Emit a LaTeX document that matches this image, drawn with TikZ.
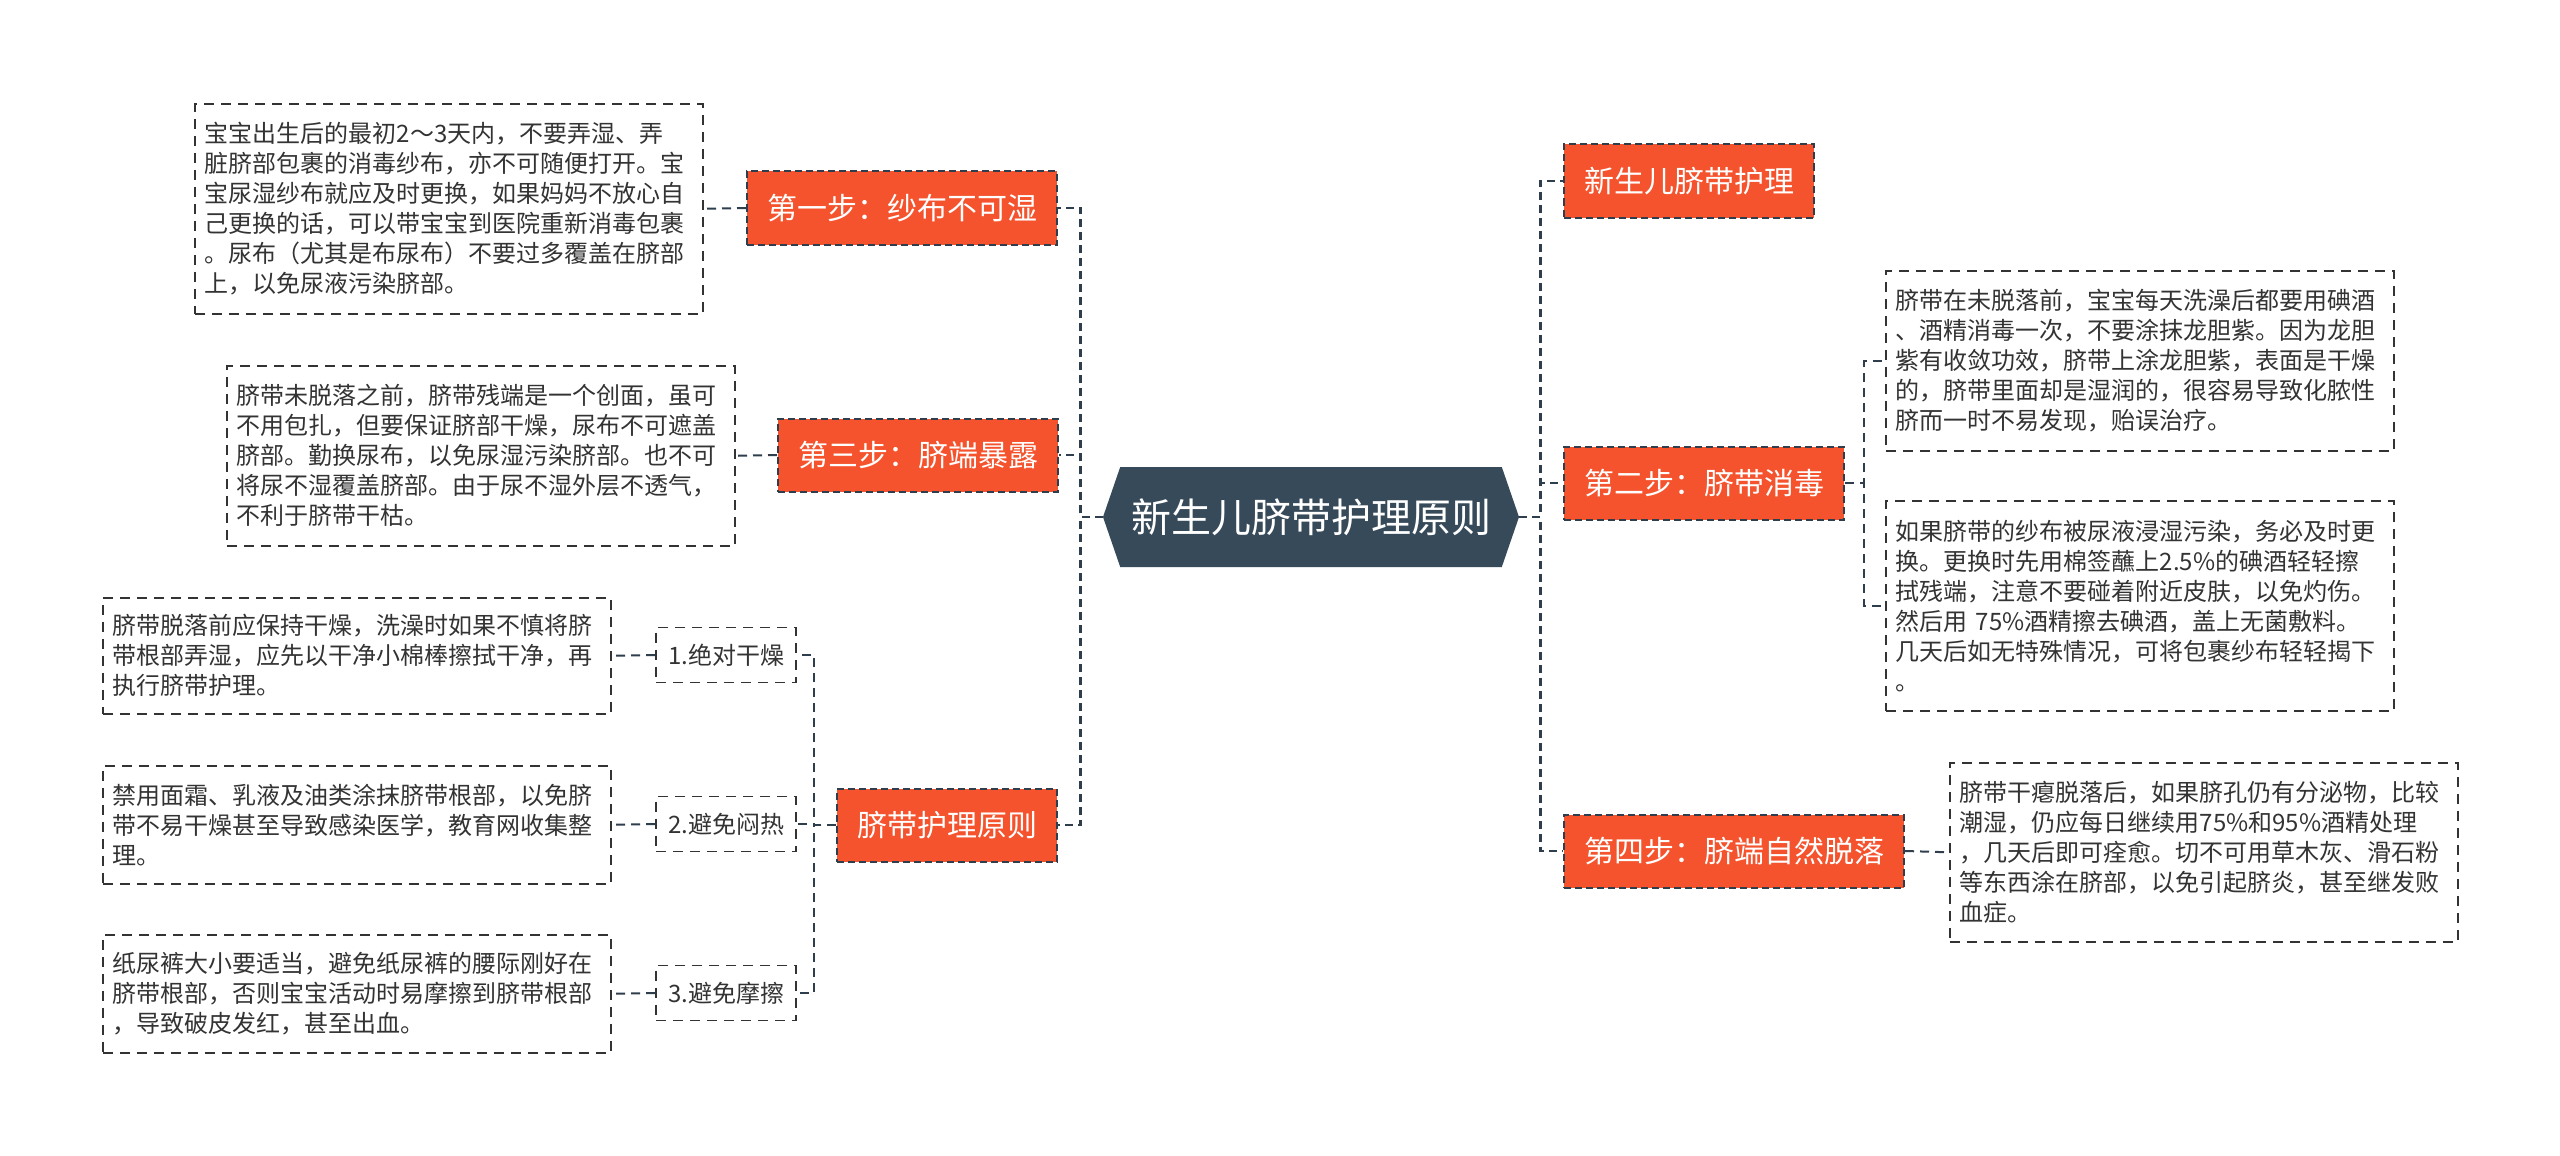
\documentclass[tikz,border=0pt]{standalone}
\usepackage{fontspec}
\setmainfont{Noto Sans CJK SC}
\usetikzlibrary{shapes.symbols,positioning}
\definecolor{hubfill}{HTML}{374A5A}
\definecolor{topicred}{HTML}{F4532D}
\definecolor{linkgray}{HTML}{2F3E4D}
\definecolor{inkgray}{HTML}{333333}
\tikzset{
  link/.style={draw=linkgray,line width=1.3pt,dash pattern=on 4pt off 2.5pt},
  sublink/.style={draw=linkgray,line width=1pt,dash pattern=on 4.5pt off 3pt},
  topic/.style={fill=topicred,draw=linkgray,line width=1pt,dash pattern=on 3.5pt off 2pt,
    text=white,font=\fontsize{15pt}{18pt}\selectfont,inner xsep=10pt,inner ysep=0pt,
    minimum height=36.5pt},
  leaf/.style={draw=inkgray,fill=white,line width=.8pt,dash pattern=on 5pt off 3.5pt,
    text=inkgray,font=\fontsize{12pt}{15pt}\selectfont,align=left,text width=244pt,
    inner xsep=5pt,anchor=north west},
  tag/.style={draw=inkgray,fill=white,line width=.8pt,dash pattern=on 5pt off 3.5pt,
    text=inkgray,font=\fontsize{12pt}{15pt}\selectfont,minimum width=70pt,
    minimum height=27.5pt,inner sep=0pt}}

\begin{document}
\begin{tikzpicture}[x=.5pt,y=-.5pt]
\fill[white] (0,0) rectangle (2560,1156);
\useasboundingbox (0,0) rectangle (2560,1156);
% centre
\node[signal,signal to=west and east,signal pointer angle=142,fill=hubfill,text=white,
  font=\fontsize{20pt}{24pt}\selectfont,minimum width=208pt,minimum height=50pt,inner sep=0pt]
  (hub) at (1311,517) {新生儿脐带护理原则};
% left side
\node[topic,anchor=east] (dry) at (1058,208) {第一步：纱布不可湿};
\node[topic,anchor=east] (bare) at (1059,455) {第三步：脐端暴露};
\node[topic,anchor=east] (rules) at (1058,825) {脐带护理原则};
\node[tag] (tagdry) at (726,655) {1.绝对干燥};
\node[tag] (tagheat) at (726,824) {2.避免闷热};
\node[tag] (tagrub) at (726,993) {3.避免摩擦};
\node[leaf,minimum height=105pt] (drytxt) at (194,103) {宝宝出生后的最初2～3天内，不要弄湿、弄\\
脏脐部包裹的消毒纱布，亦不可随便打开。宝\\
宝尿湿纱布就应及时更换，如果妈妈不放心自\\
己更换的话，可以带宝宝到医院重新消毒包裹\\
。尿布（尤其是布尿布）不要过多覆盖在脐部\\
上，以免尿液污染脐部。};
\node[leaf,minimum height=90pt] (baretxt) at (226,365) {脐带未脱落之前，脐带残端是一个创面，虽可\\
不用包扎，但要保证脐部干燥，尿布不可遮盖\\
脐部。勤换尿布，以免尿湿污染脐部。也不可\\
将尿不湿覆盖脐部。由于尿不湿外层不透气，\\
不利于脐带干枯。};
\node[leaf,minimum height=58pt] (tagdrytxt) at (102,597) {脐带脱落前应保持干燥，洗澡时如果不慎将脐\\
带根部弄湿，应先以干净小棉棒擦拭干净，再\\
执行脐带护理。};
\node[leaf,minimum height=59pt] (tagheattxt) at (102,765) {禁用面霜、乳液及油类涂抹脐带根部，以免脐\\
带不易干燥甚至导致感染医学，教育网收集整\\
理。};
\node[leaf,minimum height=59pt] (tagrubtxt) at (102,934) {纸尿裤大小要适当，避免纸尿裤的腰际刚好在\\
脐带根部，否则宝宝活动时易摩擦到脐带根部\\
，导致破皮发红，甚至出血。};
% right side
\node[topic,anchor=west] (care) at (1563,181) {新生儿脐带护理};
\node[topic,anchor=west] (clean) at (1563,483) {第二步：脐带消毒};
\node[topic,anchor=west] (fall) at (1563,851) {第四步：脐端自然脱落};
\node[leaf,minimum height=90pt] (cleantxta) at (1885,270) {脐带在未脱落前，宝宝每天洗澡后都要用碘酒\\
、酒精消毒一次，不要涂抹龙胆紫。因为龙胆\\
紫有收敛功效，脐带上涂龙胆紫，表面是干燥\\
的，脐带里面却是湿润的，很容易导致化脓性\\
脐而一时不易发现，贻误治疗。};
\node[leaf,minimum height=105pt] (cleantxtb) at (1885,500) {如果脐带的纱布被尿液浸湿污染，务必及时更\\
换。更换时先用棉签蘸上2.5\%的碘酒轻轻擦\\
拭残端，注意不要碰着附近皮肤，以免灼伤。\\
然后用 75\%酒精擦去碘酒，盖上无菌敷料。\\
几天后如无特殊情况，可将包裹纱布轻轻揭下\\
。};
\node[leaf,minimum height=89.5pt] (falltxt) at (1949,762) {脐带干瘪脱落后，如果脐孔仍有分泌物，比较\\
潮湿，仍应每日继续用75\%和95\%酒精处理\\
，几天后即可痊愈。切不可用草木灰、滑石粉\\
等东西涂在脐部，以免引起脐炎，甚至继发败\\
血症。};
% connectors
\draw[link] (hub.west) -- ++(-22,0) |- (dry.east);
\draw[link] (hub.west) -- ++(-22,0) |- (bare.east);
\draw[link] (hub.west) -- ++(-22,0) |- (rules.east);
\draw[link] (hub.east) -- ++(21,0) |- (care.west);
\draw[link] (hub.east) -- ++(21,0) |- (clean.west);
\draw[link] (hub.east) -- ++(21,0) |- (fall.west);
\draw[sublink] (dry.west) -- (drytxt.east);
\draw[sublink] (bare.west) -- (baretxt.east);
\draw[sublink] (rules.west) -- ++(-22,0) |- (tagdry.east);
\draw[sublink] (rules.west) -- ++(-22,0) |- (tagheat.east);
\draw[sublink] (rules.west) -- ++(-22,0) |- (tagrub.east);
\draw[sublink] (tagdry.west) -- (tagdrytxt.east);
\draw[sublink] (tagheat.west) -- (tagheattxt.east);
\draw[sublink] (tagrub.west) -- (tagrubtxt.east);
\draw[sublink] (clean.east) -- ++(19,0) |- (cleantxta.west);
\draw[sublink] (clean.east) -- ++(19,0) |- (cleantxtb.west);
\draw[sublink] (fall.east) -- (falltxt.west);
\end{tikzpicture}
\end{document}
